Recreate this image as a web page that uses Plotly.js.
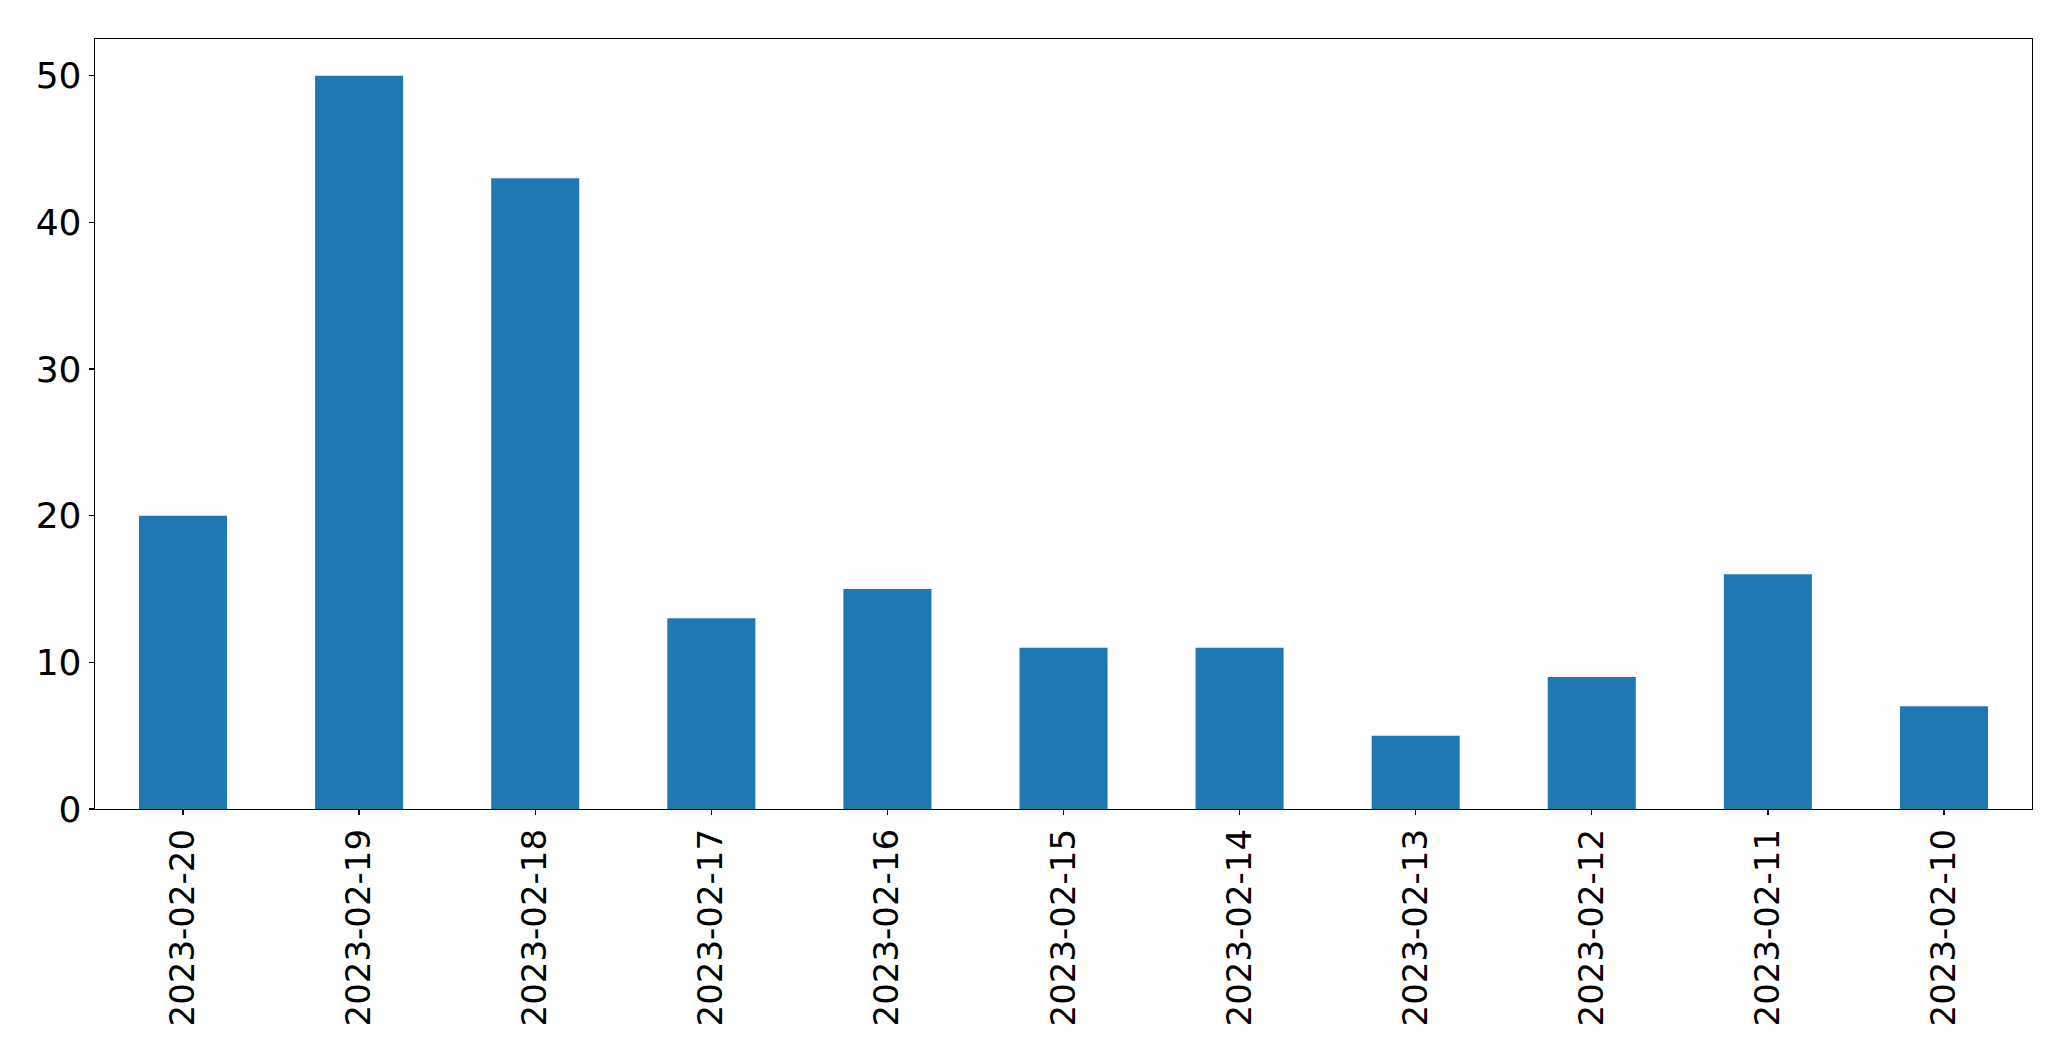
<!DOCTYPE html>
<html>
<head>
<meta charset="utf-8">
<script src="https://cdn.plot.ly/plotly-3.0.1.min.js"></script>
<style>html,body{margin:0;padding:0;background:#fff;}#chart{width:2071px;height:1061px;}</style>
</head>
<body>
<div id="chart"></div>
<script>
const dates = ["2023-02-20","2023-02-19","2023-02-18","2023-02-17","2023-02-16","2023-02-15","2023-02-14","2023-02-13","2023-02-12","2023-02-11","2023-02-10"];
const counts = [20, 50, 43, 13, 15, 11, 11, 5, 9, 16, 7];
const yTicks = [0, 10, 20, 30, 40, 50];

const trace = {
  type: 'bar',
  x: dates,
  y: counts,
  marker: {color: '#1f77b4', line: {width: 0}},
  hoverinfo: 'x+y'
};

const layout = {
  width: 2071,
  height: 1061,
  margin: {l: 95, r: 39, t: 39, b: 252, pad: 0},
  paper_bgcolor: '#ffffff',
  plot_bgcolor: '#ffffff',
  font: {family: 'DejaVu Sans', size: 34, color: '#000000'},
  bargap: 0.5,
  showlegend: false,
  xaxis: {
    type: 'category',
    range: [-0.5, 10.5],
    tickangle: -90,
    tickfont: {family: 'DejaVu Sans', size: 34, color: '#000'},
    ticks: 'outside',
    ticklen: 5,
    tickwidth: 1.3,
    tickcolor: '#000',
    showline: true,
    mirror: true,
    linecolor: '#000',
    linewidth: 1.3,
    showgrid: false,
    zeroline: false,
    automargin: false
  },
  yaxis: {
    range: [0, 52.5],
    tickvals: yTicks,
    ticktext: yTicks.map(String),
    tickfont: {family: 'DejaVu Sans', size: 36, color: '#000'},
    ticks: 'outside',
    ticklen: 5,
    tickwidth: 1.3,
    tickcolor: '#000',
    showline: true,
    mirror: true,
    linecolor: '#000',
    linewidth: 1.3,
    showgrid: false,
    zeroline: false,
    automargin: false
  }
};

Plotly.newPlot('chart', [trace], layout, {staticPlot: true, displayModeBar: false});
</script>
</body>
</html>
